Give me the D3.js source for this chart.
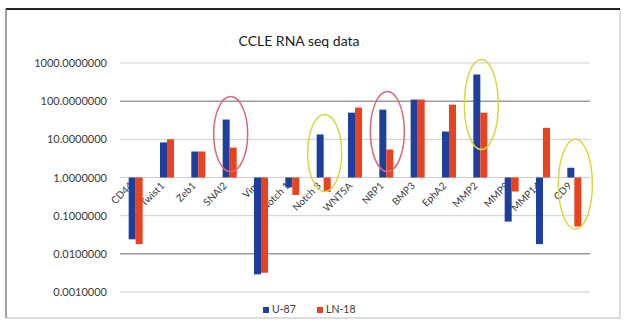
<!DOCTYPE html>
<html>
<head>
<meta charset="utf-8">
<script src="https://cdn.jsdelivr.net/npm/d3@7"></script>
<style>
  body { margin: 0; background: #fff; }
  text { font-family: Lato, "Open Sans", sans-serif; }
</style>
</head>
<body>
<svg width="626" height="326"></svg>
<script>
var genes = ["CD44", "Twist1", "Zeb1", "SNAI2", "Vim", "Notch 1", "Notch 3", "WNT5A", "NRP1", "BMP3", "EphA2", "MMP2", "MMP9", "MMP14", "CD9"];
var u87  = [0.024, 8.3, 4.8, 33, 0.0029, 0.55, 13.4, 50, 60, 110, 16, 500, 0.07, 0.018, 1.8];
var ln18 = [0.018, 10, 4.8, 6.1, 0.0032, 0.35, 0.42, 68, 5.4, 110, 81, 50, 0.43, 20, 0.052];
var yTicks = [1000, 100, 10, 1, 0.1, 0.01, 0.001];
var seriesNames = ["U-87", "LN-18"];
var colors = ["#1f3f9e", "#e8431e"];

// circled genes (value range covered by each ellipse)
var circled = ["SNAI2", "Notch 3", "NRP1", "MMP2", "CD9"];
var circleTop = [132, 45, 178, 1230, 10];
var circleBottom = [1.43, 0.43, 1.43, 5.4, 0.044];
var circleColor = ["#d9697a", "#d8d840", "#d9697a", "#d8d840", "#d8d840"];

var svg = d3.select("svg"),
    margin = {top: 63, right: 36, bottom: 34, left: 120},
    width = 626 - margin.left - margin.right,
    height = 292 - margin.top;

// frame
svg.append("rect").attr("x", 6).attr("y", 9).attr("width", 614).attr("height", 309)
    .attr("fill", "#fff").attr("stroke", "#bbb").attr("stroke-width", 1);
svg.append("line").attr("x1", 6).attr("x2", 620).attr("y1", 9).attr("y2", 9)
    .attr("stroke", "#222").attr("stroke-width", 2);
svg.append("line").attr("x1", 6).attr("x2", 6).attr("y1", 9).attr("y2", 318)
    .attr("stroke", "#666").attr("stroke-width", 1);

var x = d3.scaleBand().domain(genes).range([0, width]);
var y = d3.scaleLog().domain([0.001, 1000]).range([height, 0]);
var bw = 7;

var g = svg.append("g").attr("transform", "translate(" + margin.left + "," + margin.top + ")");

// gridlines
g.selectAll(".grid").data(yTicks).enter().append("line")
    .attr("x1", 0).attr("x2", width)
    .attr("y1", function(d) { return y(d); })
    .attr("y2", function(d) { return y(d); })
    .attr("stroke", function(d) { return (d === 100 || d === 0.01) ? "#9a9a9a" : "#cfcfcf"; })
    .attr("stroke-width", function(d) { return (d === 100 || d === 0.01) ? 1.5 : 1; });

// y axis labels
var yAxis = d3.axisLeft(y).tickValues(yTicks).tickSize(0).tickPadding(13)
    .tickFormat(function(d) { return d.toFixed(7); });
g.append("g").call(yAxis)
    .call(function(a) { a.select(".domain").remove(); })
    .selectAll("text").attr("fill", "#3a3a3a").style("font-size", "11px");

// category labels (behind the bars)
g.selectAll(".cat").data(genes).enter().append("text")
    .attr("transform", function(d) {
      return "translate(" + (x(d) + x.bandwidth() / 2 - 2) + "," + (y(1) + 9) + ") rotate(-45)";
    })
    .attr("text-anchor", "end")
    .attr("fill", "#3a3a3a")
    .style("font-size", "10px")
    .text(function(d) { return d; });

// bars, from 1 up or down
[u87, ln18].forEach(function(vals, s) {
  g.selectAll(".bar" + s).data(vals).enter().append("rect")
      .attr("x", function(d, i) { return x(genes[i]) + x.bandwidth() / 2 - bw + s * bw; })
      .attr("y", function(d) { return Math.min(y(d), y(1)); })
      .attr("width", bw)
      .attr("height", function(d) { return Math.abs(y(d) - y(1)); })
      .attr("fill", colors[s]);
});

// annotation ellipses
g.selectAll(".circ").data(circled).enter().append("ellipse")
    .attr("cx", function(d) { return x(d) + x.bandwidth() / 2 + 1; })
    .attr("cy", function(d, i) { return (y(circleTop[i]) + y(circleBottom[i])) / 2; })
    .attr("rx", 17)
    .attr("ry", function(d, i) { return (y(circleBottom[i]) - y(circleTop[i])) / 2; })
    .attr("fill", "none")
    .attr("stroke", function(d, i) { return circleColor[i]; })
    .attr("stroke-width", 1.5);

// title
svg.append("text").attr("x", 299).attr("y", 46).attr("text-anchor", "middle")
    .attr("fill", "#222").style("font-size", "14px").text("CCLE RNA seq data");

// legend
var leg = svg.append("g").attr("transform", "translate(263,313)");
seriesNames.forEach(function(n, i) {
  var lg = leg.append("g").attr("transform", "translate(" + (i * 54) + ",0)");
  lg.append("rect").attr("x", 0).attr("y", -6).attr("width", 6).attr("height", 6).attr("fill", colors[i]);
  lg.append("text").attr("x", 9).attr("y", 0).attr("fill", "#3a3a3a").style("font-size", "10.5px").text(n);
});
</script>
</body>
</html>
